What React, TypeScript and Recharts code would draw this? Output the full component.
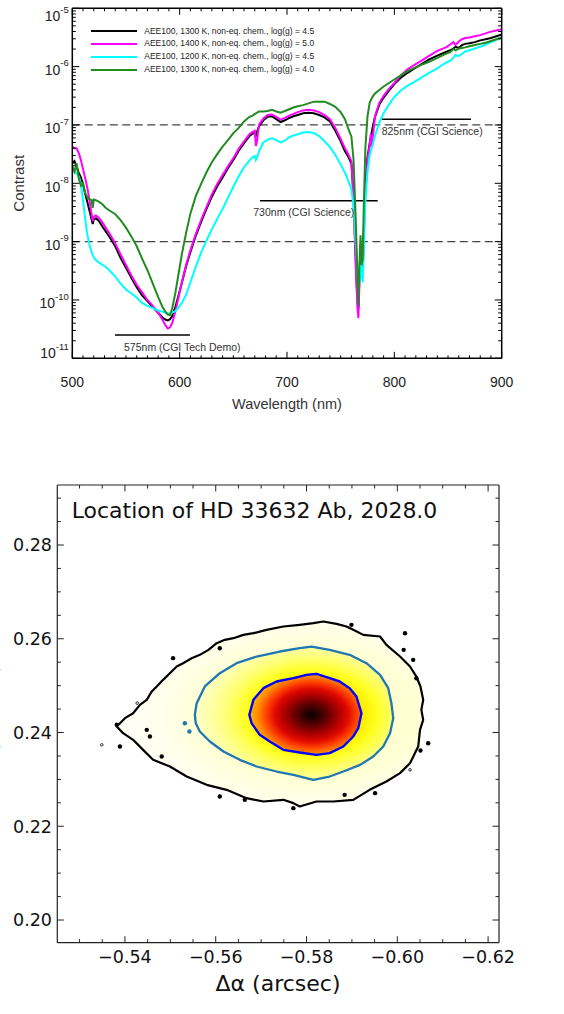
import React from 'react';
import { ComposedChart, Line, XAxis, YAxis, ReferenceLine, Scatter, Legend, Label } from 'recharts';

// ================= TOP PANEL DATA =================
const wavelengthNm = [
  500, 502, 504, 506, 508, 510, 512, 514, 516, 518,
  519, 520, 522, 525, 528, 531, 535, 540, 545, 550,
  555, 560, 565, 570, 575, 580, 584, 587, 589, 591,
  593, 596, 599, 602, 606, 610, 615, 620, 625, 630,
  635, 640, 645, 650, 655, 660, 665, 668, 670, 671,
  672, 674, 678, 682, 686, 690, 694, 698, 702, 706,
  710, 715, 720, 725, 730, 735, 740, 745, 750, 754,
  757, 760, 762, 764, 765.5, 766.5, 767.5, 768.5, 769.5, 770.5,
  771.5, 773, 775, 777, 778, 779, 780, 782, 786, 790,
  795, 800, 806, 812, 818, 825, 832, 840, 848, 852,
  855, 857, 860, 863, 866, 870, 875, 880, 885, 890,
  895, 900,
];

// log10(contrast)
const logContrast1300g45 = [
  -7.66, -7.62, -7.71, -7.82, -7.90, -8.02, -8.18, -8.32, -8.47, -8.62,
  -8.70, -8.62, -8.60, -8.65, -8.74, -8.82, -8.93, -9.08, -9.28, -9.45,
  -9.62, -9.78, -9.92, -10.02, -10.12, -10.22, -10.30, -10.34, -10.35, -10.33,
  -10.28, -10.12, -9.92, -9.71, -9.42, -9.18, -8.90, -8.66, -8.44, -8.23,
  -8.05, -7.90, -7.74, -7.60, -7.44, -7.31, -7.19, -7.15, -7.13, -7.20,
  -7.12, -7.02, -6.92, -6.86, -6.85, -6.90, -6.95, -6.92, -6.88, -6.85,
  -6.83, -6.80, -6.79, -6.80, -6.83, -6.87, -6.94, -7.10, -7.28, -7.45,
  -7.54, -7.66, -8.20, -9.30, -9.95, -10.15, -9.60, -9.05, -9.45, -9.55,
  -8.80, -8.00, -7.55, -7.32, -7.22, -7.12, -7.02, -6.86, -6.65, -6.53,
  -6.41, -6.30, -6.19, -6.11, -6.04, -5.96, -5.88, -5.81, -5.75, -5.72,
  -5.69, -5.66, -5.68, -5.63, -5.61, -5.60, -5.58, -5.55, -5.53, -5.51,
  -5.48, -5.45,
];

const logContrast1400g50 = [
  -7.37, -7.40, -7.40, -7.48, -7.60, -7.76, -7.91, -8.08, -8.29, -8.53,
  -8.65, -8.57, -8.55, -8.60, -8.67, -8.76, -8.87, -9.03, -9.22, -9.40,
  -9.58, -9.74, -9.87, -10.00, -10.10, -10.22, -10.34, -10.44, -10.49, -10.47,
  -10.40, -10.20, -9.95, -9.70, -9.40, -9.15, -8.87, -8.63, -8.41, -8.19,
  -8.01, -7.86, -7.71, -7.57, -7.41, -7.28, -7.16, -7.12, -7.10, -7.36,
  -7.28, -6.99, -6.89, -6.83, -6.82, -6.86, -6.91, -6.88, -6.84, -6.81,
  -6.78, -6.75, -6.74, -6.75, -6.78, -6.83, -6.90, -7.05, -7.24, -7.40,
  -7.50, -7.62, -8.30, -9.40, -10.10, -10.31, -9.70, -9.15, -9.50, -9.55,
  -8.90, -8.20, -7.60, -7.35, -7.15, -7.38, -7.20, -6.85, -6.62, -6.50,
  -6.38, -6.28, -6.15, -6.05, -5.98, -5.90, -5.82, -5.73, -5.67, -5.62,
  -5.58, -5.63, -5.57, -5.53, -5.51, -5.50, -5.48, -5.46, -5.43, -5.40,
  -5.38, -5.36,
];

const logContrast1200g45 = [
  -7.77, -7.80, -7.83, -7.88, -8.00, -8.30, -8.60, -8.88, -9.05, -9.18,
  -9.23, -9.27, -9.32, -9.36, -9.40, -9.43, -9.50, -9.60, -9.72, -9.82,
  -9.89, -9.96, -10.05, -10.10, -10.14, -10.18, -10.20, -10.22, -10.23, -10.23,
  -10.22, -10.19, -10.13, -10.05, -9.91, -9.70, -9.43, -9.19, -8.98, -8.79,
  -8.61, -8.44, -8.25, -8.06, -7.88, -7.72, -7.61, -7.55, -7.53, -7.60,
  -7.56, -7.45, -7.30, -7.25, -7.23, -7.26, -7.30, -7.27, -7.21, -7.18,
  -7.16, -7.13, -7.12, -7.14, -7.19, -7.28, -7.38, -7.51, -7.68, -7.82,
  -7.95, -8.10, -8.40, -9.00, -9.50, -9.80, -9.70, -9.25, -9.55, -9.70,
  -9.20, -8.30, -7.80, -7.52, -7.45, -7.39, -7.33, -7.18, -6.96, -6.80,
  -6.65, -6.52, -6.41, -6.33, -6.27, -6.19, -6.11, -6.03, -5.93, -5.90,
  -5.85, -5.80, -5.82, -5.78, -5.74, -5.72, -5.69, -5.66, -5.62, -5.58,
  -5.54, -5.50,
];

const logContrast1300g40 = [
  -7.71, -7.80, -7.66, -7.92, -8.04, -8.00, -8.17, -8.24, -8.27, -8.29,
  -8.42, -8.28, -8.29, -8.32, -8.36, -8.42, -8.47, -8.53, -8.63, -8.76,
  -8.91, -9.08, -9.29, -9.49, -9.72, -9.95, -10.12, -10.21, -10.25, -10.26,
  -10.15, -9.88, -9.55, -9.22, -8.85, -8.52, -8.22, -8.01, -7.81, -7.64,
  -7.50, -7.37, -7.26, -7.14, -7.05, -6.94, -6.86, -6.84, -6.81, -6.80,
  -6.79, -6.77, -6.77, -6.76, -6.74, -6.77, -6.79, -6.76, -6.73, -6.70,
  -6.68, -6.66, -6.63, -6.60, -6.60, -6.60, -6.64, -6.69, -6.78, -6.90,
  -7.06, -7.20, -7.60, -8.60, -9.50, -10.10, -9.40, -8.89, -9.40, -9.30,
  -8.40, -7.40, -6.85, -6.62, -6.58, -6.54, -6.51, -6.46, -6.40, -6.34,
  -6.28, -6.22, -6.15, -6.08, -6.03, -5.97, -5.92, -5.85, -5.78, -5.75,
  -5.70, -5.72, -5.69, -5.68, -5.67, -5.65, -5.63, -5.61, -5.59, -5.56,
  -5.53, -5.50,
];

const legendLabels = [
  'AEE100, 1300 K, non-eq. chem., log(g) = 4.5',
  'AEE100, 1400 K, non-eq. chem., log(g) = 5.0',
  'AEE100, 1200 K, non-eq. chem., log(g) = 4.5',
  'AEE100, 1300 K, non-eq. chem., log(g) = 4.0',
];
const seriesColors = ['#000000', '#ff00ff', '#00ffff', '#228b22'];

// CGI bands: [start nm, end nm, log10 level]
const bandLabels = ['575nm (CGI Tech Demo)', '730nm (CGI Science)', '825nm (CGI Science)'];
const bandStart = [539.8, 674.8, 788.2];
const bandEnd = [609.6, 784.5, 871.4];
const bandLevel = [-10.6, -8.3, -6.9];
const bandTextX = [548.2, 668.6, 788.2];
const bandTextLevel = [-10.875, -8.56, -7.17];

const contrastThresholds = [-7, -9];
const logMajorTicks = [-11, -10, -9, -8, -7, -6, -5];
const wavelengthTicks = Array.from({ length: 41 }, (_, i) => 500 + i * 10);

// ================= BOTTOM PANEL DATA =================
// [delta alpha, delta delta] in arcsec
const outerContour: [number, number][] = [
  [-0.5382, 0.24128], [-0.5400, 0.24306], [-0.5418, 0.24412], [-0.5433, 0.2459], [-0.5448, 0.24697],
  [-0.5459, 0.24875], [-0.5470, 0.24981], [-0.5484, 0.25123], [-0.5499, 0.25266], [-0.5514, 0.25408],
  [-0.5528, 0.25479], [-0.5547, 0.25585], [-0.5565, 0.25657], [-0.5584, 0.25763], [-0.5602, 0.25906],
  [-0.5620, 0.25977], [-0.5639, 0.26012], [-0.5661, 0.26083], [-0.5683, 0.26119], [-0.5712, 0.2619],
  [-0.5749, 0.26261], [-0.5785, 0.26297], [-0.5815, 0.26332], [-0.5837, 0.26368], [-0.5866, 0.26318],
  [-0.5888, 0.26261], [-0.5903, 0.2619], [-0.5925, 0.26083], [-0.5962, 0.26048], [-0.5976, 0.2587],
  [-0.6006, 0.25621], [-0.6028, 0.25408], [-0.6042, 0.25194], [-0.6051, 0.24981], [-0.6057, 0.24697],
  [-0.6053, 0.24483], [-0.6057, 0.2427], [-0.6050, 0.24057], [-0.6046, 0.23701], [-0.6028, 0.23346],
  [-0.6006, 0.23133], [-0.5976, 0.22955], [-0.5939, 0.22777], [-0.5903, 0.22564], [-0.5859, 0.22528],
  [-0.5822, 0.22528], [-0.5785, 0.22422], [-0.5771, 0.22493], [-0.5749, 0.22564], [-0.5705, 0.22528],
  [-0.5668, 0.22599], [-0.5624, 0.22777], [-0.5580, 0.22884], [-0.5536, 0.23061], [-0.5499, 0.23275],
  [-0.5462, 0.23417], [-0.5440, 0.2363], [-0.5418, 0.23844], [-0.5396, 0.23986],
];

const middleContour: [number, number][] = [
  [-0.5554, 0.24377], [-0.5558, 0.24626], [-0.5576, 0.24982], [-0.5609, 0.25266], [-0.5646, 0.25479],
  [-0.5690, 0.25621], [-0.5741, 0.25728], [-0.5785, 0.25799], [-0.5811, 0.25834], [-0.5851, 0.25763],
  [-0.5895, 0.25657], [-0.5932, 0.25479], [-0.5962, 0.2523], [-0.5980, 0.24946], [-0.5987, 0.24626],
  [-0.5991, 0.24306], [-0.5984, 0.23986], [-0.5969, 0.23701], [-0.5947, 0.23488], [-0.5918, 0.2331],
  [-0.5881, 0.23168], [-0.5851, 0.23061], [-0.5815, 0.2299], [-0.5771, 0.23097], [-0.5734, 0.23168],
  [-0.5690, 0.23275], [-0.5653, 0.23417], [-0.5617, 0.23595], [-0.5587, 0.23808], [-0.5565, 0.24021],
  [-0.5556, 0.24199],
];

const innerContour: [number, number][] = [
  [-0.5674, 0.24377], [-0.5683, 0.24697], [-0.5705, 0.24946], [-0.5734, 0.25088], [-0.5771, 0.25159],
  [-0.5800, 0.2523], [-0.5822, 0.25251], [-0.5851, 0.25159], [-0.5873, 0.25088], [-0.5895, 0.24946],
  [-0.5910, 0.24768], [-0.5921, 0.24412], [-0.5914, 0.24092], [-0.5903, 0.23915], [-0.5881, 0.23701],
  [-0.5851, 0.23559], [-0.5822, 0.23524], [-0.5785, 0.23573], [-0.5749, 0.2363], [-0.5719, 0.23808],
  [-0.5697, 0.2395], [-0.5679, 0.24199],
];

const outerIslands: [number, number][] = [
  [-0.5389, 0.23701], [-0.5382, 0.24164], [-0.5455, 0.23915], [-0.5481, 0.23488], [-0.5506, 0.25586],
  [-0.5609, 0.25799], [-0.5609, 0.22635], [-0.5664, 0.22564], [-0.5771, 0.22386], [-0.5899, 0.26297],
  [-0.6017, 0.26119], [-0.6014, 0.25763], [-0.6035, 0.2555], [-0.6042, 0.25159], [-0.6068, 0.23772],
  [-0.6051, 0.23616], [-0.5884, 0.2267], [-0.5951, 0.22706], [-0.5448, 0.24057],
];
const outerSpecks: [number, number][] = [[-0.5349, 0.23737], [-0.5427, 0.24626], [-0.6028, 0.23204]];
const middleIslands: [number, number][] = [[-0.5532, 0.24199], [-0.5542, 0.24021]];

const alphaMajorTicks = [-0.54, -0.56, -0.58, -0.6, -0.62];
const alphaMinorTicks = [-0.53, -0.535, -0.545, -0.55, -0.555, -0.565, -0.57, -0.575, -0.585, -0.59, -0.595, -0.605, -0.61, -0.615];
const deltaMajorTicks = [0.2, 0.22, 0.24, 0.26, 0.28];
const deltaMinorTicks = [0.205, 0.21, 0.215, 0.225, 0.23, 0.235, 0.245, 0.25, 0.255, 0.265, 0.27, 0.275, 0.285, 0.29];

// ================= HELPERS =================
const TOP_FONT = '"Liberation Sans", Arial, sans-serif';
const BOT_FONT = '"DejaVu Sans", sans-serif';

const toXY = (arr: [number, number][]) => arr.map(([x, y]) => ({ x, y }));
const buildSeries = (vals: number[]) => wavelengthNm.map((x, i) => ({ x, y: vals[i] }));

const logMinorTicks: number[] = [];
for (let n = -11; n < -5; n++) for (let k = 2; k <= 9; k++) logMinorTicks.push(n + Math.log10(k));
const logAllTicks = [...logMajorTicks, ...logMinorTicks];

const isIn = (v: number, list: number[]) => list.some((m) => Math.abs(m - v) < 1e-9);
const emptyShape = () => <g />;

const closedD = (pts: { x: number; y: number }[]) =>
  pts && pts.length ? 'M' + pts.map((q) => `${q.x},${q.y}`).join('L') + 'Z' : '';

const gradientFill = (id: string, cx: number, cy: number, r: number, stops: [number, string][]) => (p: any) => (
  <g>
    <defs>
      <radialGradient id={id} cx={cx} cy={cy} r={r} fx={cx} fy={cy}>
        {stops.map(([o, c], i) => (
          <stop key={i} offset={o} stopColor={c} />
        ))}
      </radialGradient>
    </defs>
    <path d={closedD(p.points)} fill={`url(#${id})`} stroke="none" />
  </g>
);

const contourStroke = (color: string, width: number) => (p: any) => (
  <path d={closedD(p.points)} fill="none" stroke={color} strokeWidth={width} strokeLinejoin="round" />
);

// ----- top panel ticks -----
const TopLeftTick = (props: any) => {
  const { x, y, payload } = props;
  const v = payload.value as number;
  const major = isIn(v, logMajorTicks);
  const len = major ? 7 : 3.5;
  let off = 8.3;
  if (v === -5) off = 13;
  if (v === -11) off = 0;
  return (
    <g>
      <line x1={x} y1={y} x2={x + len} y2={y} stroke="#000" strokeWidth={1} />
      {major && (
        <text x={x - 3.5} y={y + off} textAnchor="end" fontSize={14} fill="#222" fontFamily={TOP_FONT}>
          10
          <tspan dy={-8.5} fontSize={9.5}>
            {String(v)}
          </tspan>
        </text>
      )}
    </g>
  );
};
const TopRightTick = (props: any) => {
  const { x, y, payload } = props;
  const len = isIn(payload.value, logMajorTicks) ? 7 : 3.5;
  return <line x1={x} y1={y} x2={x - len} y2={y} stroke="#000" strokeWidth={1} />;
};
const TopBottomTick = (props: any) => {
  const { x, y, payload } = props;
  const v = payload.value as number;
  const major = v % 100 === 0;
  return (
    <g>
      <line x1={x} y1={y} x2={x} y2={y - (major ? 6.5 : 3)} stroke="#000" strokeWidth={1} />
      {major && (
        <text x={x} y={y + 28.4} textAnchor="middle" fontSize={14} fill="#222" fontFamily={TOP_FONT}>
          {v}
        </text>
      )}
    </g>
  );
};
const TopTopTick = (props: any) => {
  const { x, y, payload } = props;
  const major = (payload.value as number) % 100 === 0;
  return <line x1={x} y1={y} x2={x} y2={y + (major ? 6.5 : 3)} stroke="#000" strokeWidth={1} />;
};

// ----- bottom panel ticks -----
const fmt = (v: number) => v.toFixed(2).replace('-', '\u2212');
const BotLeftTick = (props: any) => {
  const { x, y, payload } = props;
  const v = payload.value as number;
  const major = isIn(v, deltaMajorTicks);
  return (
    <g>
      <line x1={x} y1={y} x2={x + (major ? 6.5 : 3.5)} y2={y} stroke="#222" strokeWidth={1} />
      {major && (
        <text x={x - 5.3} y={y + 6.3} textAnchor="end" fontSize={17.5} fill="#111" fontFamily={BOT_FONT}>
          {fmt(v)}
        </text>
      )}
    </g>
  );
};
const BotRightTick = (props: any) => {
  const { x, y, payload } = props;
  const major = isIn(payload.value, deltaMajorTicks);
  return <line x1={x} y1={y} x2={x - (major ? 6.5 : 3.5)} y2={y} stroke="#222" strokeWidth={1} />;
};
const BotBottomTick = (props: any) => {
  const { x, y, payload } = props;
  const v = payload.value as number;
  const major = isIn(v, alphaMajorTicks);
  return (
    <g>
      <line x1={x} y1={y} x2={x} y2={y - (major ? 6.5 : 3.5)} stroke="#222" strokeWidth={1} />
      {major && (
        <text x={x} y={y + 20.4} textAnchor="middle" fontSize={17.5} fill="#111" fontFamily={BOT_FONT}>
          {fmt(v)}
        </text>
      )}
    </g>
  );
};
const BotTopTick = (props: any) => {
  const { x, y, payload } = props;
  const major = isIn(payload.value, alphaMajorTicks);
  return <line x1={x} y1={y} x2={x} y2={y + (major ? 6.5 : 3.5)} stroke="#222" strokeWidth={1} />;
};

// ================= CHARTS =================
function SpectrumChart() {
  const bandText = bandLabels.map((label, i) => ({ x: bandTextX[i], y: bandTextLevel[i], label }));
  const series = [logContrast1300g45, logContrast1400g50, logContrast1200g45, logContrast1300g40];
  return (
    <ComposedChart width={564} height={420} margin={{ top: 7.3, right: 61.3, bottom: 21.7, left: 0 }}>
      <XAxis
        type="number"
        dataKey="x"
        domain={[500, 900]}
        allowDataOverflow
        ticks={wavelengthTicks}
        interval={0}
        tickSize={0}
        tickMargin={0}
        tickLine={false}
        tick={TopBottomTick}
        height={40}
        axisLine={{ stroke: '#000', strokeWidth: 1.5 }}
        label={
          <Label
            content={() => (
              <text x={287} y={408.7} textAnchor="middle" fontSize={14.5} fill="#333" fontFamily={TOP_FONT}>
                Wavelength (nm)
              </text>
            )}
          />
        }
      />
      <XAxis
        xAxisId="t"
        orientation="top"
        type="number"
        dataKey="x"
        domain={[500, 900]}
        allowDataOverflow
        ticks={wavelengthTicks}
        interval={0}
        tickSize={0}
        tickMargin={0}
        tickLine={false}
        tick={TopTopTick}
        height={1}
        axisLine={{ stroke: '#000', strokeWidth: 1.5 }}
      />
      <YAxis
        type="number"
        dataKey="y"
        domain={[-11, -5]}
        allowDataOverflow
        ticks={logAllTicks}
        interval={0}
        tickSize={0}
        tickMargin={0}
        tickLine={false}
        tick={TopLeftTick}
        width={72.3}
        axisLine={{ stroke: '#000', strokeWidth: 1.5 }}
        label={
          <Label
            content={() => (
              <text
                x={24.5}
                y={183.3}
                transform="rotate(-90, 24.5, 183.3)"
                textAnchor="middle"
                fontSize={15}
                fill="#333"
                fontFamily={TOP_FONT}
              >
                Contrast
              </text>
            )}
          />
        }
      />
      <YAxis
        yAxisId="r"
        orientation="right"
        type="number"
        dataKey="y"
        domain={[-11, -5]}
        allowDataOverflow
        ticks={logAllTicks}
        interval={0}
        tickSize={0}
        tickMargin={0}
        tickLine={false}
        tick={TopRightTick}
        width={1}
        axisLine={{ stroke: '#000', strokeWidth: 1.5 }}
      />
      {contrastThresholds.map((t) => (
        <ReferenceLine key={t} y={t} stroke="#444" strokeWidth={1.3} strokeDasharray="8 4.5" />
      ))}
      {bandLabels.map((b, i) => (
        <ReferenceLine
          key={b}
          segment={[
            { x: bandStart[i], y: bandLevel[i] },
            { x: bandEnd[i], y: bandLevel[i] },
          ]}
          stroke="#000"
          strokeWidth={1.5}
        />
      ))}
      {series.map((vals, i) => (
        <Line
          key={i}
          data={buildSeries(vals)}
          dataKey="y"
          name={legendLabels[i]}
          stroke={seriesColors[i]}
          strokeWidth={2}
          dot={false}
          type="linear"
          isAnimationActive={false}
        />
      ))}
      <Scatter
        data={bandText}
        isAnimationActive={false}
        legendType="none"
        shape={(p: any) => (
          <text x={p.cx} y={p.cy} fontSize={10.5} fill="#333" fontFamily={TOP_FONT}>
            {p.payload.label}
          </text>
        )}
      />
      <Legend
        layout="vertical"
        align="center"
        verticalAlign="middle"
        wrapperStyle={{ left: 90.7, top: 24.5, width: 280, height: 52 }}
        content={() => (
          <div style={{ fontFamily: TOP_FONT, fontSize: 8.5, color: '#222' }}>
            {legendLabels.map((label, i) => (
              <div key={i} style={{ display: 'flex', alignItems: 'center', height: 12.9 }}>
                <div style={{ width: 46, height: 2, background: seriesColors[i] }} />
                <span style={{ marginLeft: 7.6, whiteSpace: 'nowrap', lineHeight: '12.9px' }}>{label}</span>
              </div>
            ))}
          </div>
        )}
      />
    </ComposedChart>
  );
}

function LocationChart() {
  return (
    <ComposedChart width={564} height={544} margin={{ top: 14, right: 64, bottom: 31.3, left: 0 }}>
      <XAxis
        type="number"
        dataKey="x"
        domain={[-0.6224, -0.5251]}
        reversed
        allowDataOverflow
        ticks={[...alphaMajorTicks, ...alphaMinorTicks]}
        interval={0}
        tickSize={0}
        tickMargin={0}
        tickLine={false}
        tick={BotBottomTick}
        height={40}
        axisLine={{ stroke: '#222', strokeWidth: 1.2 }}
        label={
          <Label
            content={() => (
              <text x={278} y={521} textAnchor="middle" fontSize={22} fill="#111" fontFamily={BOT_FONT}>
                Δα (arcsec)
              </text>
            )}
          />
        }
      />
      <XAxis
        xAxisId="t"
        orientation="top"
        type="number"
        dataKey="x"
        domain={[-0.6224, -0.5251]}
        reversed
        allowDataOverflow
        ticks={[...alphaMajorTicks, ...alphaMinorTicks]}
        interval={0}
        tickSize={0}
        tickMargin={0}
        tickLine={false}
        tick={BotTopTick}
        height={1}
        axisLine={{ stroke: '#222', strokeWidth: 1.2 }}
        label={
          <Label
            content={() => (
              <text x={71.7} y={48} textAnchor="start" fontSize={22} fill="#111" fontFamily={BOT_FONT}>
                Location of HD 33632 Ab, 2028.0
              </text>
            )}
          />
        }
      />
      <YAxis
        type="number"
        dataKey="y"
        domain={[0.19516, 0.2928]}
        allowDataOverflow
        ticks={[...deltaMajorTicks, ...deltaMinorTicks]}
        interval={0}
        tickSize={0}
        tickMargin={0}
        tickLine={false}
        tick={BotLeftTick}
        width={57.3}
        axisLine={{ stroke: '#222', strokeWidth: 1.2 }}
        label={
          <Label
            content={() => (
              <text
                x={-3.5}
                y={256}
                transform="rotate(-90, -3.5, 256)"
                textAnchor="middle"
                fontSize={22}
                fill="#111"
                fontFamily={BOT_FONT}
              >
                Δδ (arcsec)
              </text>
            )}
          />
        }
      />
      <YAxis
        yAxisId="r"
        orientation="right"
        type="number"
        dataKey="y"
        domain={[0.19516, 0.2928]}
        allowDataOverflow
        ticks={[...deltaMajorTicks, ...deltaMinorTicks]}
        interval={0}
        tickSize={0}
        tickMargin={0}
        tickLine={false}
        tick={BotRightTick}
        width={1}
        axisLine={{ stroke: '#222', strokeWidth: 1.2 }}
      />
      {/* density shading */}
      <Scatter
        data={toXY(outerContour)}
        lineType="joint"
        line={gradientFill('gOuter', 0.63, 0.5, 0.66, [
          [0, '#ffffc0'],
          [0.55, '#ffffd6'],
          [0.7, '#ffffe8'],
          [0.85, '#fffff4'],
          [1, '#fffffc'],
        ])}
        shape={emptyShape}
        isAnimationActive={false}
        legendType="none"
      />
      <Scatter
        data={toXY(middleContour)}
        lineType="joint"
        line={gradientFill('gMid', 0.586, 0.51, 0.6, [
          [0, '#ffd800'],
          [0.45, '#ffee00'],
          [0.55, '#ffff20'],
          [0.7, '#ffff70'],
          [0.85, '#ffffaa'],
          [1, '#ffffcc'],
        ])}
        shape={emptyShape}
        isAnimationActive={false}
        legendType="none"
      />
      <Scatter
        data={toXY(innerContour)}
        lineType="joint"
        line={gradientFill('gInner', 0.555, 0.506, 0.56, [
          [0, '#0a0000'],
          [0.1, '#2a0000'],
          [0.25, '#600000'],
          [0.42, '#a80000'],
          [0.58, '#e00800'],
          [0.72, '#ff4000'],
          [0.86, '#ff8c00'],
          [1, '#ffbe00'],
        ])}
        shape={emptyShape}
        isAnimationActive={false}
        legendType="none"
      />
      {/* contour lines */}
      <Scatter
        data={toXY(outerContour)}
        lineType="joint"
        line={contourStroke('#000000', 2.2)}
        shape={emptyShape}
        isAnimationActive={false}
        legendType="none"
      />
      <Scatter
        data={toXY(middleContour)}
        lineType="joint"
        line={contourStroke('#1f77b4', 2.3)}
        shape={emptyShape}
        isAnimationActive={false}
        legendType="none"
      />
      <Scatter
        data={toXY(innerContour)}
        lineType="joint"
        line={contourStroke('#0000ff', 2.4)}
        shape={emptyShape}
        isAnimationActive={false}
        legendType="none"
      />
      <Scatter
        data={toXY(outerIslands)}
        shape={(p: any) => <circle cx={p.cx} cy={p.cy} r={2.2} fill="#000" />}
        isAnimationActive={false}
        legendType="none"
      />
      <Scatter
        data={toXY(outerSpecks)}
        shape={(p: any) => <circle cx={p.cx} cy={p.cy} r={1.3} fill="none" stroke="#000" strokeWidth={0.8} />}
        isAnimationActive={false}
        legendType="none"
      />
      <Scatter
        data={toXY(middleIslands)}
        shape={(p: any) => <circle cx={p.cx} cy={p.cy} r={2.2} fill="#1f77b4" />}
        isAnimationActive={false}
        legendType="none"
      />
    </ComposedChart>
  );
}

export default function App() {
  return (
    <div style={{ position: 'absolute', left: 0, top: 0, width: 564, height: 1014, background: '#fff' }}>
      <div style={{ position: 'absolute', left: 0, top: 0 }}>
        <SpectrumChart />
      </div>
      <div style={{ position: 'absolute', left: 0, top: 470 }}>
        <LocationChart />
      </div>
    </div>
  );
}
